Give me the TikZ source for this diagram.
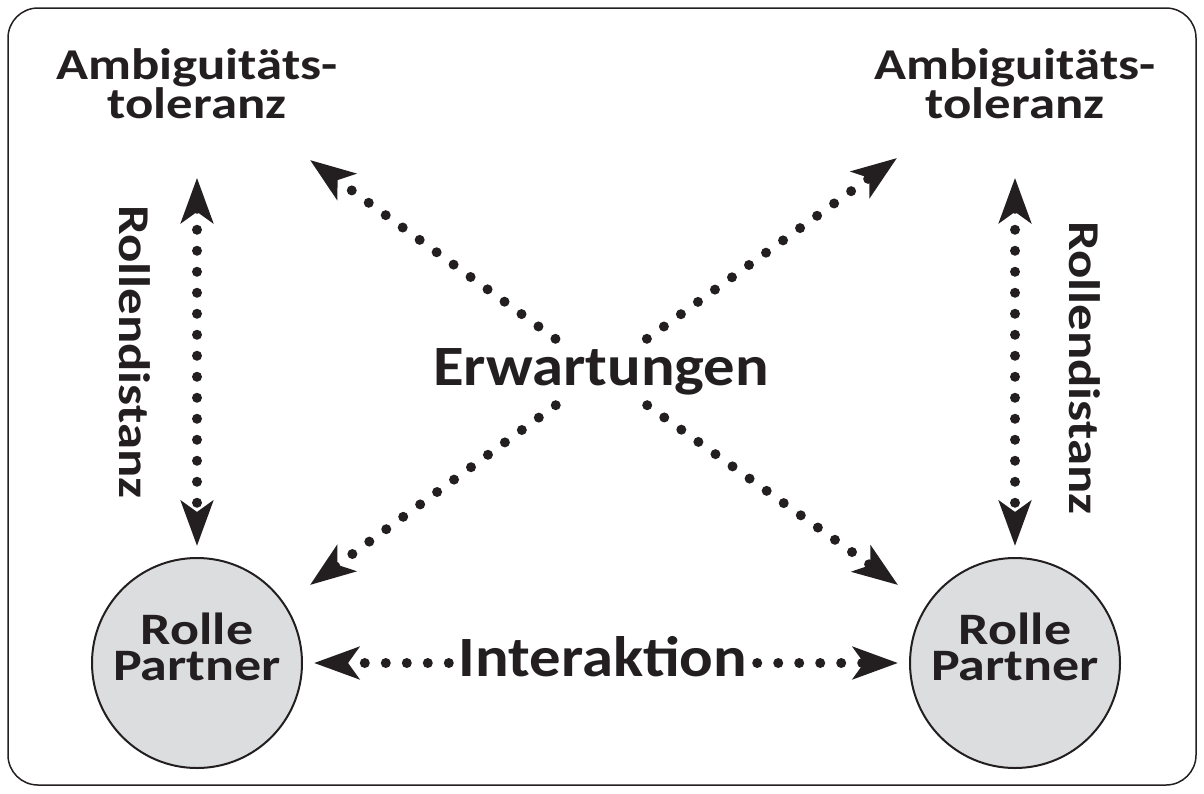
\documentclass[tikz,border=0pt]{standalone}
\usepackage{fontspec}
\setmainfont{Carlito}
\newfontfamily\widefont[FakeStretch=1.2]{Carlito}
\newfontfamily\bigfont[FakeStretch=1.1]{Carlito}
\usetikzlibrary{arrows.meta}
\definecolor{ink}{HTML}{231F20}
\definecolor{rolegray}{HTML}{DCDDDE}
\tikzset{
  dots/.style={ink, line width=10pt, dash pattern=on 0pt off 21pt, line cap=round},
  role/.style={circle, draw=ink, line width=2pt, fill=rolegray, minimum size=210pt,
    inner sep=0pt, outer sep=12pt},
  roletext/.style={align=center, text=ink, inner sep=0pt,
    font=\widefont\bfseries\fontsize{45}{36}\selectfont},
  title/.style={align=center, text=ink, font=\widefont\bfseries\fontsize{44}{35}\selectfont},
  side/.style={text=ink, rotate=-90, font=\widefont\bfseries\fontsize{44}{44}\selectfont},
  big/.style={text=ink, text height=38pt, text depth=12pt, inner sep=8pt,
    font=\bigfont\bfseries\fontsize{57}{57}\selectfont}
}
\begin{document}
\begin{tikzpicture}[x=1pt,y=-1pt,>={Stealth[length=45pt,width=32pt,inset=11pt]}]
  \useasboundingbox (0,0) rectangle (1204,793);
  \draw[ink, line width=1.5pt, rounded corners=30pt] (8,8) rectangle (1196,785);

  % roles
  \node[role] (roleL) at (197,663) {};
  \node[role] (roleR) at (1015,663) {};
  \node[roletext] (txtL) at ([yshift=16pt]roleL.center) {Rolle\\Partner};
  \node[roletext] (txtR) at ([yshift=16pt]roleR.center) {Rolle\\Partner};

  % tolerance and distance
  \node[title] (ambL) at (197,84) {Ambiguitäts-\\toleranz};
  \node[title] (ambR) at (1015,84) {Ambiguitäts-\\toleranz};
  \node[side] at (135,352) {Rollendistanz};
  \node[side] at (1085,368) {Rollendistanz};
  \draw[dots, <->, shorten <=55pt] (ambL) -- (roleL);
  \draw[dots, <->, shorten <=55pt] (ambR) -- (roleR);

  % expectations
  \node[big] (erw) at (601,372) {Erwartungen};
  \coordinate (tl) at (310,160);
  \coordinate (tr) at (897,158);
  \coordinate (bl) at (310,585);
  \coordinate (br) at (898,585);
  \foreach \c in {tl,tr,bl,br}
    \draw[dots, ->] (erw) -- (\c);

  % interaction
  \node[big, inner sep=10pt] (inter) at (603,663) {Interaktion};
  \draw[dots, ->] (inter) -- (roleL);
  \draw[dots, ->] (inter) -- (roleR);
\end{tikzpicture}
\end{document}
